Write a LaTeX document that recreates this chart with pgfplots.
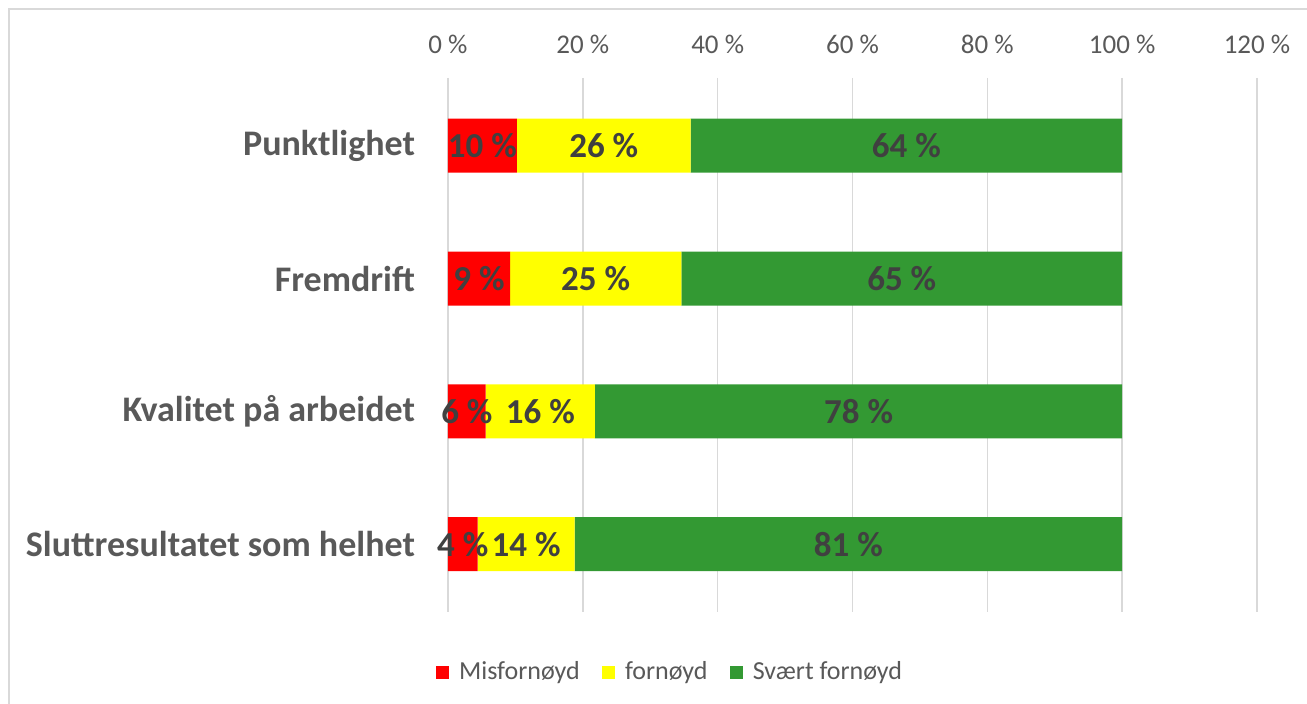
\documentclass[border=0pt]{standalone}
\usepackage{fontspec}
\setmainfont{Carlito}
\usepackage{pgfplots}
\usepackage{pgfplotstable}
\pgfplotsset{compat=1.18}

\definecolor{cRed}{HTML}{FF0000}
\definecolor{cYel}{HTML}{FFFF00}
\definecolor{cGrn}{HTML}{339933}
\definecolor{txt}{HTML}{595959}
\definecolor{lbl}{HTML}{404040}
\definecolor{grd}{HTML}{D9D9D9}

% idx: 0 = Punktlighet ... 3 = Sluttresultatet som helhet
\pgfplotstableread{
idx mis forn svart
0 10.2 25.8 64.0
1 9.2 25.4 65.4
2 5.6 16.2 78.2
3 4.4 14.4 81.2
}\survey

\begin{document}
\begin{tikzpicture}
\begin{axis}[
    name=ax,
    scale only axis,
    width=404.5pt, height=267pt,
    xbar stacked,
    bar width=27pt,
    xmin=0, xmax=120,
    ymin=-0.51, ymax=3.51,
    y dir=reverse,
    ytick={0,1,2,3},
    yticklabels={Punktlighet,Fremdrift,Kvalitet på arbeidet,Sluttresultatet som helhet},
    xtick={0,20,40,60,80,100,120},
    xticklabel pos=right,
    xticklabel={\pgfmathprintnumber{\tick}~\%},
    /pgf/number format/assume math mode=true,
    xticklabel style={font=\fontsize{13.5}{14}\selectfont, text=txt, anchor=base, yshift=12pt},
    yticklabel style={font=\fontsize{18}{20}\selectfont\bfseries, text=txt, anchor=east, xshift=-13pt},
    major tick length=0pt,
    axis line style={draw=none},
    xmajorgrids,
    grid style={grd, line width=0.8pt},
    clip=false,
    point meta=explicit,
    nodes near coords={\pgfmathprintnumber[fixed,precision=0]{\pgfplotspointmeta}~\%},
    every node near coord/.append style={font=\fontsize{17.5}{18}\selectfont\bfseries, text=lbl, anchor=center},
    legend style={at={(0.2757,-0.1126)}, anchor=center, legend columns=3, draw=none,
        font=\fontsize{13}{14}\selectfont, text=txt,
        /tikz/every odd column/.append style={column sep=3pt},
        /tikz/every even column/.append style={column sep=9pt}},
    legend image code/.code={\fill[#1] (0pt,-3.3pt) rectangle (6.6pt,3.3pt);},
]
\addplot[fill=cRed, draw=none] table[x=mis, y=idx, meta=mis] {\survey};
\addplot[fill=cYel, draw=none] table[x=forn, y=idx, meta=forn] {\survey};
\addplot[fill=cGrn, draw=none] table[x=svart, y=idx, meta=svart] {\survey};
\legend{Misfornøyd, fornøyd, Svært fornøyd}
\end{axis}
\path[use as bounding box] ([shift={(-224pt,-46pt)}]ax.south west) rectangle ([shift={(429.5pt,306pt)}]ax.south west);
\draw[grd, line width=1pt] ([shift={(-219.5pt,-46pt)}]ax.south west) -- ([shift={(-219.5pt,301.25pt)}]ax.south west) -- ([shift={(429.5pt,301.25pt)}]ax.south west);
\end{tikzpicture}
\end{document}
